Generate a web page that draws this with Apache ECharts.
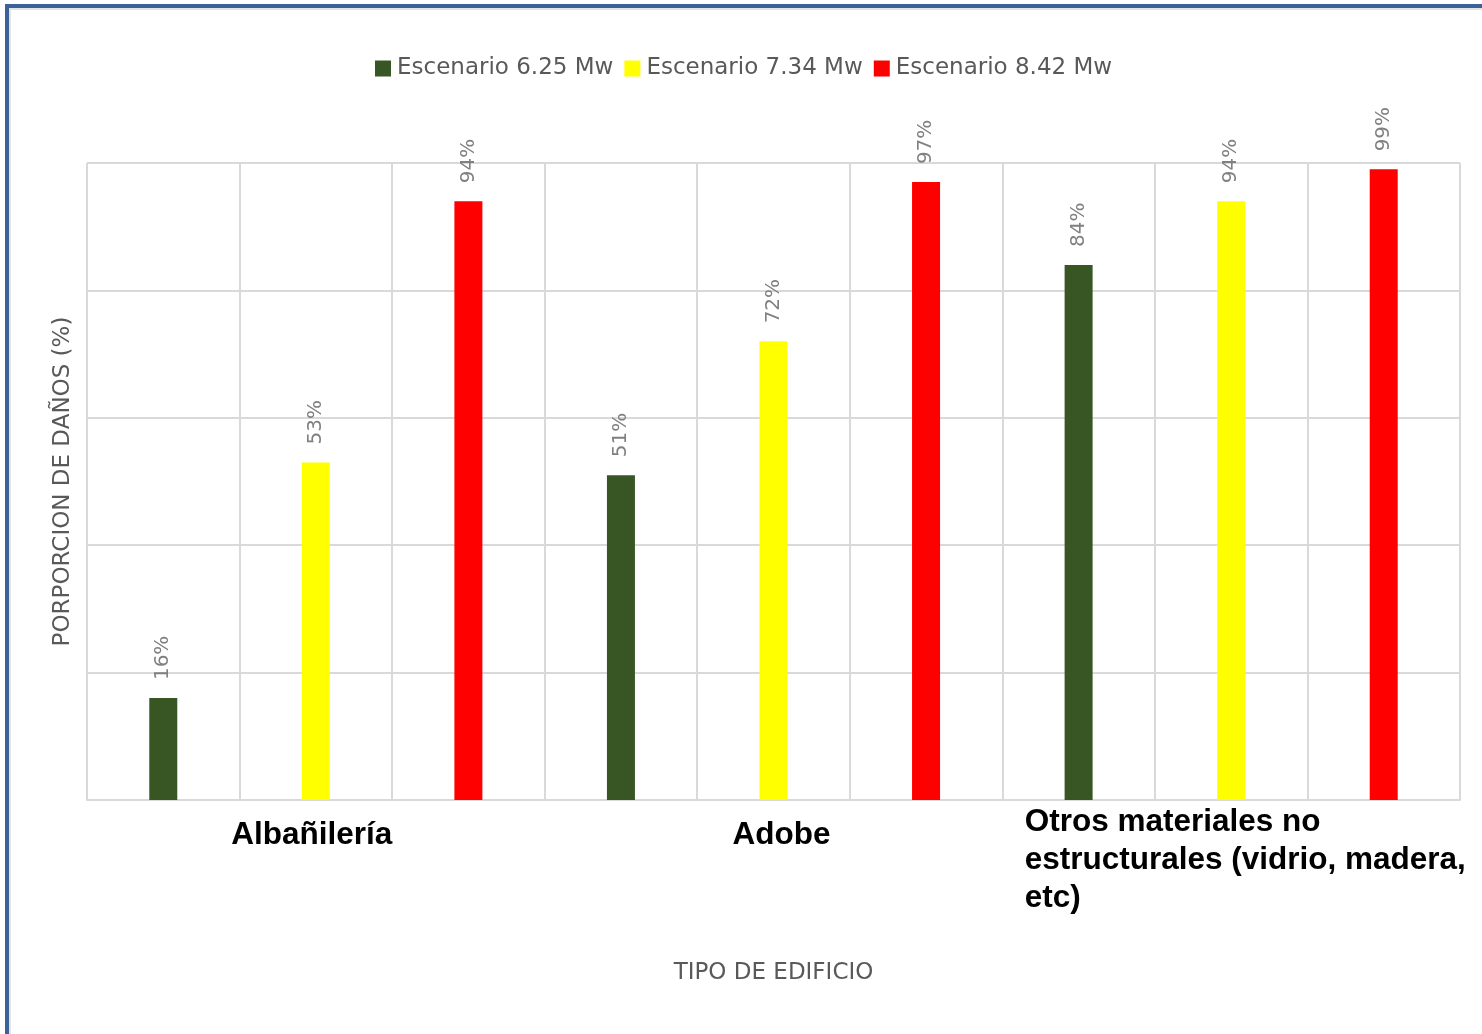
<!DOCTYPE html>
<html>
<head>
<meta charset="utf-8">
<script src="https://cdn.jsdelivr.net/npm/echarts@6/dist/echarts.min.js"></script>
<style>
html,body{margin:0;padding:0;background:#fff;}
#chart{position:absolute;left:0;top:0;width:1482px;height:1034px;}
#frameBlue{position:absolute;left:5px;top:4px;width:1477px;height:1030px;border-left:4px solid #3a6298;border-top:4px solid #3a6298;box-sizing:border-box;pointer-events:none;}
#frameGray{position:absolute;left:9px;top:8px;width:1473px;height:1026px;border-left:2px solid #e3e3e3;border-top:2px solid #e3e3e3;box-sizing:border-box;pointer-events:none;}
</style>
</head>
<body>
<div id="chart"></div>
<div id="frameBlue"></div>
<div id="frameGray"></div>
<script>
// ---- data ----
var groups = ['Albañilería', 'Adobe', 'Otros materiales no estructurales (vidrio, madera, etc)'];
var scenarios = ['Escenario 6.25 Mw', 'Escenario 7.34 Mw', 'Escenario 8.42 Mw'];
var esc625 = [16, 51, 84];
var esc734 = [53, 72, 94];
var esc842 = [94, 97, 99];
var yTicks = [0, 20, 40, 60, 80, 100];
var yAxisName = 'PORPORCION DE DAÑOS (%)';
var xAxisName = 'TIPO DE EDIFICIO';
var colors = ['#375623', '#ffff00', '#ff0000'];

// ---- build slots (one column per group x scenario) ----
var allValues = [esc625, esc734, esc842];
var slots = [];
groups.forEach(function (g, gi) {
  scenarios.forEach(function (s, si) { slots.push(g + ' - ' + s); });
});
function slotData(si) {
  var d = [];
  groups.forEach(function (g, gi) {
    scenarios.forEach(function (s, k) {
      d.push(k === si ? allValues[si][gi] : '-');
    });
  });
  return d;
}

var chart = echarts.init(document.getElementById('chart'), null, {renderer: 'canvas'});
var gray = '#d9d9d9';
var greyFont = 'DejaVu Sans';
var option = {
  animation: false,
  backgroundColor: '#ffffff',
  legend: {
    left: 375, top: 57, padding: 0,
    itemWidth: 16, itemHeight: 16, itemGap: 11,
    icon: 'rect',
    textStyle: {fontFamily: greyFont, fontSize: 23, color: '#595959', padding: [0, 0, 0, 1]},
    data: scenarios
  },
  grid: {left: 87, right: 22, top: 163, bottom: 234, containLabel: false},
  xAxis: [{
    type: 'category',
    data: slots,
    boundaryGap: true,
    axisLine: {show: true, lineStyle: {color: gray, width: 2}},
    axisTick: {show: false},
    axisLabel: {show: false, interval: 0},
    splitLine: {show: true, interval: 0, lineStyle: {color: gray, width: 2}},
    name: xAxisName,
    nameLocation: 'middle',
    nameGap: 162,
    nameTextStyle: {fontFamily: greyFont, fontSize: 23, color: '#595959'}
  }, {
    type: 'category',
    position: 'bottom',
    data: groups,
    boundaryGap: true,
    axisLine: {show: false},
    axisTick: {show: false},
    splitLine: {show: false},
    axisLabel: {
      show: true,
      interval: 0,
      margin: 3,
      formatter: function (v, i) {
        if (i === 2) {
          return '{l|Otros materiales no}\n{l|estructurales (vidrio, madera,}\n{l|etc)}';
        }
        return i === 0 ? '{a|' + v + '}' : '{b|' + v + '}';
      },
      rich: {
        a: {fontFamily: 'Liberation Sans', fontWeight: 'bold', fontSize: 31.5, color: '#000', lineHeight: 38, padding: [27, 8, 0, 0]},
        b: {fontFamily: 'Liberation Sans', fontWeight: 'bold', fontSize: 31.5, color: '#000', lineHeight: 38, padding: [27, 0, 0, 16]},
        l: {fontFamily: 'Liberation Sans', fontWeight: 'bold', fontSize: 31.5, color: '#000', lineHeight: 38, width: 413, align: 'left'}
      }
    }
  }],
  yAxis: {
    type: 'value',
    min: 0, max: 100, interval: 20,
    axisLine: {show: false},
    axisTick: {show: false},
    axisLabel: {show: false},
    splitLine: {show: true, lineStyle: {color: gray, width: 2}},
    name: yAxisName,
    nameLocation: 'middle',
    nameGap: 12,
    nameTextStyle: {fontFamily: greyFont, fontSize: 23, color: '#595959'}
  },
  series: scenarios.map(function (name, si) {
    return {
      name: name,
      type: 'bar',
      xAxisIndex: 0,
      data: slotData(si),
      barWidth: 28,
      barGap: '-100%',
      itemStyle: {color: colors[si]},
      label: {
        show: true,
        position: 'top',
        rotate: 90,
        align: 'left',
        verticalAlign: 'middle',
        distance: 18,
        formatter: '{c}%',
        fontFamily: greyFont,
        fontSize: 20,
        color: '#808080'
      }
    };
  })
};
chart.setOption(option);
</script>
</body>
</html>
